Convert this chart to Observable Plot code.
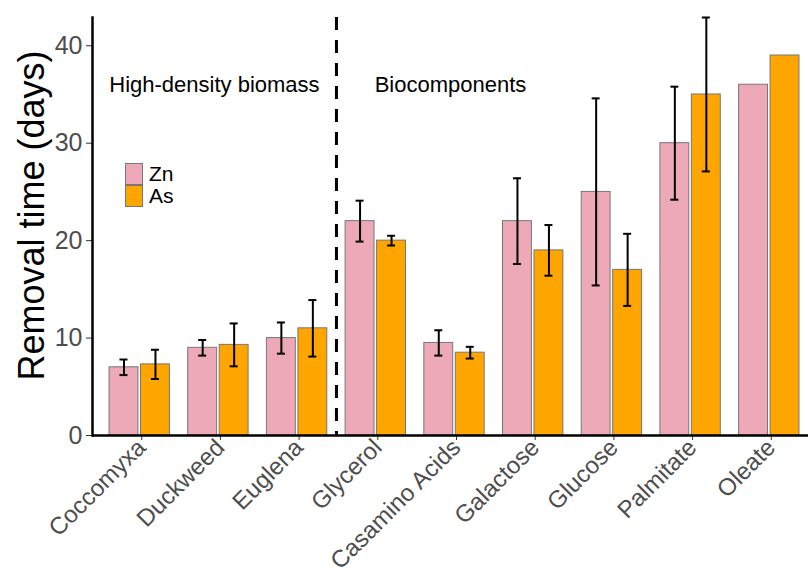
<!DOCTYPE html>
<html><head><meta charset="utf-8">
<script src="https://cdn.jsdelivr.net/npm/d3@7"></script>
<script src="https://cdn.jsdelivr.net/npm/@observablehq/plot@0.6"></script>
<style>
html,body{margin:0;padding:0;background:#fff;overflow:hidden}
#wrap{position:relative;width:808px;height:574px;font-family:"Liberation Sans",Arial,sans-serif}
#legend{position:absolute;left:125px;top:163px}
.row{display:flex;align-items:center;height:22px;overflow:visible}
.sw{width:18px;height:22px;border:1px solid #777;box-sizing:border-box;margin-right:6px;flex:none}
.lab{font-size:21px;color:#000;line-height:20px;height:20px}
</style></head><body><div id="wrap"></div>
<script>
const categories = ["Coccomyxa","Duckweed","Euglena","Glycerol","Casamino Acids","Galactose","Glucose","Palmitate","Oleate"];
const metals = ["Zn","As"];
const metalColors = ["#EDA9B7","#FFA500"];
const znMean = [7.0, 9.0, 10.0, 22.0, 9.5, 22.0, 25.0, 30.0, 36.0];
const znErr  = [0.8, 0.8, 1.6, 2.1, 1.3, 4.4, 9.6, 5.8, null];
const asMean = [7.3, 9.3, 11.0, 20.0, 8.5, 19.0, 17.0, 35.0, 39.0];
const asErr  = [1.5, 2.2, 2.9, 0.5, 0.6, 2.6, 3.7, 7.9, null];
const yTicks = [0, 10, 20, 30, 40];
const sectionLabels = ["High-density biomass","Biocomponents"];
const sectionAnchors = ["Duckweed","Casamino Acids"];
const sectionY = 36;
const dividerAfter = "Euglena";
const yTitle = "Removal time (days)";

const rows = metals.flatMap((m, k) => categories.map((c, i) => ({
  category: c, metal: m,
  mean: k === 0 ? znMean[i] : asMean[i],
  err: k === 0 ? znErr[i] : asErr[i]
})));
const errRows = rows.filter(d => d.err != null);
const yMax = d3.max(rows, d => d.mean + (d.err || 0));

const W = 808, H = 574, mL = 92, mT = 17, mB = 139;
const xRange = [92, 816];
const step = (xRange[1] - xRange[0]) / (categories.length + 0.2);
const off = 0.2 * step, half = 0.19 * step, cap = 4;
const font = '"Liberation Sans", Arial, sans-serif';

const marks = [];
metals.forEach((m, k) => {
  const sgn = k === 0 ? -1 : 1;
  const c = sgn * off;
  const left = c - half, right = c + half;
  marks.push(Plot.barY(rows.filter(d => d.metal === m), {
    x: "category", y: "mean", fill: metalColors[k], stroke: "#777", strokeWidth: 1,
    insetLeft: step / 2 + left + 0.5, insetRight: step / 2 - right + 0.5
  }));
});
metals.forEach((m, k) => {
  const sgn = k === 0 ? -1 : 1;
  const c = sgn * off;
  const data = errRows.filter(d => d.metal === m);
  marks.push(Plot.ruleX(data, {x: "category", y1: d => d.mean - d.err, y2: d => d.mean + d.err, dx: c, stroke: "black", strokeWidth: 2}));
  for (const f of [d => d.mean - d.err, d => d.mean + d.err]) {
    marks.push(Plot.tickY(data, {x: "category", y: f, stroke: "black", strokeWidth: 2,
      insetLeft: step / 2 + c - cap, insetRight: step / 2 - c - cap}));
  }
});
marks.push(Plot.ruleX([dividerAfter], {dx: step / 2, stroke: "black", strokeWidth: 3, strokeDasharray: "13,10"}));
marks.push(Plot.text(sectionLabels.map((s, i) => ({label: s, at: sectionAnchors[i]})), {
  x: "at", y: () => sectionY, text: "label", fontSize: 22, fill: "black", dx: -4
}));
marks.push(Plot.axisY({ticks: yTicks, tickSize: 6, tickPadding: 4, fontSize: 25, fill: "#4d4d4d", stroke: "#333", label: null}));
marks.push(Plot.axisX({tickRotate: -45, tickSize: 5, tickPadding: 3, fontSize: 24, dx: 2, fill: "#4d4d4d", stroke: "#333", label: null}));
marks.push(Plot.ruleY([0], {stroke: "black", strokeWidth: 2.5}));
marks.push(Plot.frame({anchor: "left", stroke: "black", strokeWidth: 2.5}));
marks.push(Plot.text([yTitle], {frameAnchor: "left", textAnchor: "middle", lineAnchor: "middle", rotate: -90, dx: -60, dy: -11, fontSize: 36, fill: "black"}));

const chart = Plot.plot({
  width: W, height: H, marginLeft: mL, marginTop: mT, marginBottom: mB, marginRight: 0,
  style: {fontFamily: font, background: "white", overflow: "hidden"},
  x: {type: "band", domain: categories, range: xRange, paddingInner: 0, paddingOuter: 0.1, round: false, axis: null},
  y: {domain: [0, yMax], axis: null},
  marks
});
const wrap = document.getElementById("wrap");
wrap.appendChild(chart);

const legend = d3.select(wrap).append("div").attr("id", "legend");
const row = legend.selectAll(".row").data(metals).join("div").attr("class", "row");
row.append("div").attr("class", "sw").style("background", (d, i) => metalColors[i]);
row.append("div").attr("class", "lab").text(d => d);
</script></body></html>
